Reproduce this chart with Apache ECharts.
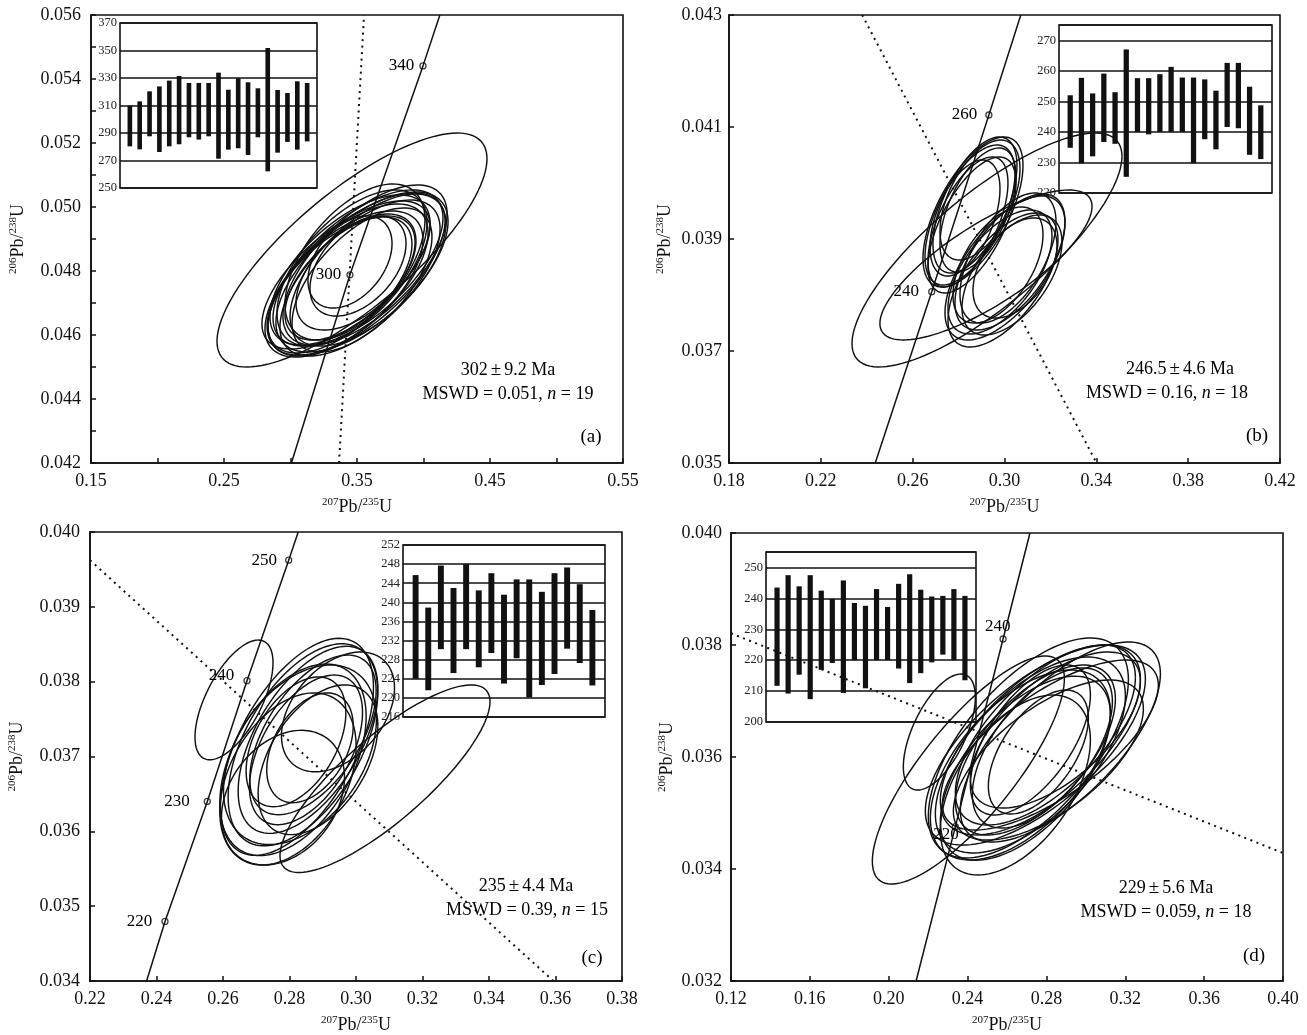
<!DOCTYPE html>
<html><head><meta charset="utf-8">
<script src="https://cdn.jsdelivr.net/npm/echarts@6/dist/echarts.min.js"></script>
<style>html,body{margin:0;padding:0;background:#fff}#c{width:1307px;height:1035px}</style>
</head><body><div id="c"></div>
<script>
// ================= DATA =================
// ---- panel (a) ----
const concA_x = [0.3007, 0.3447, 0.3996, 0.4123];
const concA_y = [0.0420, 0.04788, 0.05441, 0.0560];
const ageA_t = ['300', '340'];
const ageA_x = [0.3447, 0.3996];
const ageA_y = [0.04788, 0.05441];
const refA_x = [0.3365, 0.3553];
const refA_y = [0.0420, 0.0560];
const ellA_cx = [0.34624, 0.34474, 0.35075, 0.35376, 0.34323, 0.34850, 0.34098, 0.35602, 0.34624, 0.35226, 0.33722, 0.35827, 0.34850, 0.34474, 0.34925, 0.35075, 0.34474, 0.35376, 0.34173];
const ellA_cy = [0.048656, 0.048031, 0.048094, 0.047969, 0.047719, 0.047875, 0.047625, 0.048188, 0.048094, 0.047781, 0.047563, 0.048031, 0.048281, 0.047781, 0.047969, 0.048156, 0.048281, 0.047719, 0.047875];
const ellA_sx = [0.1015, 0.0602, 0.0639, 0.0647, 0.0602, 0.0677, 0.0586, 0.0617, 0.0564, 0.0602, 0.0541, 0.0586, 0.0526, 0.0489, 0.0451, 0.0361, 0.0316, 0.0526, 0.0632];
const ellA_sy = [0.003656, 0.002344, 0.002438, 0.0025, 0.002375, 0.002563, 0.00225, 0.0025, 0.002438, 0.002438, 0.002125, 0.002375, 0.002438, 0.001938, 0.001813, 0.001563, 0.001438, 0.00225, 0.002313];
const ellA_r  = [0.78, 0.62, 0.64, 0.63, 0.62, 0.66, 0.60, 0.64, 0.58, 0.63, 0.60, 0.61, 0.54, 0.58, 0.53, 0.45, 0.40, 0.60, 0.66];
const insA_low  = [280.3, 278.1, 287.6, 276.2, 280.3, 281.8, 286.9, 285.2, 287.6, 271.3, 277.9, 278.9, 274.0, 286.9, 262.1, 275.7, 283.5, 277.9, 283.9];
const insA_high = [309.9, 313.0, 320.3, 323.9, 328.1, 331.5, 326.4, 326.4, 326.4, 333.9, 321.5, 329.8, 326.9, 322.5, 351.8, 321.3, 319.1, 327.6, 326.4];

// ---- panel (b) ----
const concB_x = [0.2437, 0.2683, 0.2932, 0.3071];
const concB_y = [0.0350, 0.038059, 0.041214, 0.0430];
const ageB_t = ['240', '260'];
const ageB_x = [0.2683, 0.2932];
const ageB_y = [0.038059, 0.041214];
const refB_x = [0.2380, 0.3401];
const refB_y = [0.0430, 0.0350];
const ellB_cx = [0.29237, 0.29193, 0.28627, 0.28497, 0.28714, 0.28409, 0.28845, 0.28584, 0.28279, 0.28932, 0.30021, 0.30239, 0.29803, 0.30326, 0.29716, 0.30152, 0.29934, 0.30456];
const ellB_cy = [0.038804, 0.038536, 0.039482, 0.039429, 0.039607, 0.039304, 0.039518, 0.039250, 0.039375, 0.039696, 0.038482, 0.038589, 0.038411, 0.038357, 0.038536, 0.038661, 0.038268, 0.038482];
const ellB_sx = [0.0588, 0.0462, 0.02178, 0.0196, 0.01829, 0.01742, 0.01655, 0.01916, 0.01524, 0.01742, 0.02613, 0.02395, 0.02265, 0.02178, 0.0196, 0.02091, 0.02395, 0.01829];
const ellB_sy = [0.002089, 0.001339, 0.001339, 0.00125, 0.001214, 0.001161, 0.001107, 0.001214, 0.001036, 0.001071, 0.001286, 0.001214, 0.001107, 0.001071, 0.001036, 0.001161, 0.001196, 0.000893];
const ellB_r  = [0.80, 0.78, 0.62, 0.60, 0.58, 0.60, 0.55, 0.62, 0.50, 0.52, 0.62, 0.60, 0.58, 0.55, 0.52, 0.56, 0.60, 0.45];
const insB_low  = [234.8, 229.7, 232.0, 236.7, 236.1, 225.3, 240.0, 239.2, 240.0, 240.0, 240.0, 229.7, 237.6, 234.3, 241.6, 241.2, 232.5, 231.1];
const insB_high = [252.0, 257.7, 252.6, 259.1, 253.0, 267.0, 257.6, 257.6, 258.9, 261.3, 257.8, 257.8, 257.2, 253.5, 262.6, 262.6, 254.8, 248.7];

// ---- panel (c) ----
const concC_x = [0.23702, 0.24256, 0.25528, 0.26722, 0.27976, 0.28262];
const concC_y = [0.0340, 0.034796, 0.0364, 0.038013, 0.039623, 0.0400];
const ageC_t = ['220', '230', '240', '250'];
const ageC_x = [0.24256, 0.25528, 0.26722, 0.27976];
const ageC_y = [0.034796, 0.0364, 0.038013, 0.039623];
const refC_x = [0.2200, 0.35937];
const refC_y = [0.039623, 0.0340];
const ellC_cx = [0.26331, 0.30872, 0.28225, 0.28405, 0.28105, 0.28556, 0.28315, 0.27954, 0.28706, 0.28496, 0.28195, 0.28616, 0.29458, 0.27804, 0.28857];
const ellC_cy = [0.037756, 0.036703, 0.037129, 0.037156, 0.036956, 0.037223, 0.037023, 0.036700, 0.037289, 0.037089, 0.037196, 0.037116, 0.037596, 0.036450, 0.036956];
const ellC_sx = [0.01173, 0.03158, 0.0230, 0.0225, 0.0220, 0.0210, 0.0230, 0.0205, 0.0190, 0.0170, 0.0150, 0.0130, 0.0170, 0.0185, 0.0180];
const ellC_sy = [0.0008, 0.001253, 0.00145, 0.00135, 0.00128, 0.00125, 0.0012, 0.00115, 0.001067, 0.001, 0.000867, 0.000733, 0.0008, 0.0009, 0.001];
const ellC_r  = [0.62, 0.82, 0.55, 0.52, 0.45, 0.55, 0.40, 0.38, 0.55, 0.50, 0.45, 0.40, 0.40, 0.30, 0.45];
const insC_low  = [224.0, 221.6, 230.2, 225.2, 230.2, 226.4, 229.4, 223.0, 228.3, 220.1, 222.7, 225.0, 230.3, 227.3, 222.6];
const insC_high = [245.7, 238.9, 247.7, 243.0, 248.0, 242.5, 246.1, 241.6, 244.8, 244.8, 242.2, 246.1, 247.3, 243.8, 238.4];

// ---- panel (d) ----
const concD_x = [0.2139, 0.2338, 0.2580, 0.27165];
const concD_y = [0.0320, 0.034756, 0.038107, 0.0400];
const ageD_t = ['220', '240'];
const ageD_x = [0.2338, 0.2580];
const ageD_y = [0.034756, 0.038107];
const refD_x = [0.1200, 0.4000];
const refD_y = [0.038209, 0.034286];
const ellD_cx = [0.24040, 0.22568, 0.27439, 0.27693, 0.27186, 0.27947, 0.26932, 0.28200, 0.27439, 0.26678, 0.27794, 0.27186, 0.27591, 0.28454, 0.26425, 0.28099, 0.27084, 0.28707];
const ellD_cy = [0.035768, 0.036446, 0.036214, 0.036304, 0.036036, 0.036393, 0.035800, 0.036214, 0.036125, 0.035857, 0.036161, 0.036304, 0.036089, 0.036482, 0.035500, 0.035946, 0.036161, 0.036268];
const ellD_sx = [0.04871, 0.01826, 0.05581, 0.05074, 0.0482, 0.04566, 0.04313, 0.05479, 0.04059, 0.04566, 0.03552, 0.03044, 0.02537, 0.04313, 0.03805, 0.0482, 0.05074, 0.05074];
const ellD_sy = [0.002036, 0.001036, 0.001786, 0.001696, 0.00175, 0.001607, 0.001643, 0.001518, 0.001518, 0.001696, 0.001429, 0.001339, 0.001107, 0.001393, 0.001607, 0.001429, 0.001964, 0.001786];
const ellD_r  = [0.80, 0.60, 0.66, 0.64, 0.60, 0.64, 0.58, 0.70, 0.60, 0.56, 0.58, 0.60, 0.55, 0.62, 0.50, 0.64, 0.62, 0.68];
const insD_low  = [211.7, 209.2, 215.3, 207.4, 216.9, 219.1, 209.4, 220.0, 210.9, 220.0, 220.0, 217.3, 212.6, 215.8, 219.3, 221.8, 220.0, 213.5];
const insD_high = [243.5, 247.5, 243.9, 247.5, 242.5, 239.8, 245.8, 238.5, 237.6, 243.0, 237.2, 244.7, 247.8, 242.8, 240.6, 240.8, 243.0, 240.8];

// annotation texts
const ageVal   = ['302', '246.5', '235', '229'];
const errVal   = ['9.2', '4.6', '4.4', '5.6'];
const mswdText = ['0.051', '0.16', '0.39', '0.059'];
const nText    = ['19', '18', '15', '18'];
const tagText  = ['(a)', '(b)', '(c)', '(d)'];

// ================= LAYOUT / STYLE =================
const FF = 'Liberation Serif';
const INK = '#111';
const panels = [
  { grid:{left:91, top:15, width:532, height:448},
    x:{min:0.15, max:0.55, interval:0.1, dec:2, minor:true}, y:{min:0.042, max:0.056, interval:0.002, dec:3, minor:true},
    yGap:63, yMargin:10,
    ell:[ellA_cx, ellA_cy, ellA_sx, ellA_sy, ellA_r], conc:[concA_x, concA_y], ref:[refA_x, refA_y],
    ages:[ageA_t, ageA_x, ageA_y], ageOff:[[0,0],[0,0]],
    ins:{grid:{left:120, top:23, width:197, height:165}, min:250, max:370, interval:20, low:insA_low, high:insA_high, hideMax:false},
    txt:{ax:508, ay:370, mx:508, my:394, tx:591, ty:437} },
  { grid:{left:729, top:15, width:551, height:448},
    x:{min:0.18, max:0.42, interval:0.04, dec:2, minor:false}, y:{min:0.035, max:0.043, interval:0.002, dec:3, minor:false},
    yGap:54, yMargin:7,
    ell:[ellB_cx, ellB_cy, ellB_sx, ellB_sy, ellB_r], conc:[concB_x, concB_y], ref:[refB_x, refB_y],
    ages:[ageB_t, ageB_x, ageB_y], ageOff:[[-4,0],[-3,0]],
    ins:{grid:{left:1059, top:25, width:213, height:168}, min:220, max:275, interval:10, low:insB_low, high:insB_high, hideMax:true},
    txt:{ax:1180, ay:369, mx:1167, my:393, tx:1257, ty:436} },
  { grid:{left:90, top:532, width:532, height:450},
    x:{min:0.22, max:0.38, interval:0.02, dec:2, minor:false}, y:{min:0.034, max:0.040, interval:0.001, dec:3, minor:false},
    yGap:63, yMargin:10,
    ell:[ellC_cx, ellC_cy, ellC_sx, ellC_sy, ellC_r], conc:[concC_x, concC_y], ref:[refC_x, refC_y],
    ages:[ageC_t, ageC_x, ageC_y], ageOff:[[-4,0],[-9,0],[-4,-5],[-3,0]],
    ins:{grid:{left:403, top:545, width:202, height:172}, min:216, max:252, interval:4, low:insC_low, high:insC_high, hideMax:false},
    txt:{ax:526, ay:886, mx:527, my:910, tx:592, ty:958} },
  { grid:{left:731, top:533, width:552, height:448},
    x:{min:0.12, max:0.40, interval:0.04, dec:2, minor:false}, y:{min:0.032, max:0.040, interval:0.002, dec:3, minor:false},
    yGap:54, yMargin:9,
    ell:[ellD_cx, ellD_cy, ellD_sx, ellD_sy, ellD_r], conc:[concD_x, concD_y], ref:[refD_x, refD_y],
    ages:[ageD_t, ageD_x, ageD_y], ageOff:[[12,8],[16,-12]],
    ins:{grid:{left:766, top:552, width:210, height:170}, min:200, max:255, interval:10, low:insD_low, high:insD_high, hideMax:true},
    txt:{ax:1166, ay:888, mx:1166, my:912, tx:1254, ty:956} }
];

const nameRich = {
  s:{fontSize:11, fontFamily:FF, color:INK, verticalAlign:'top', lineHeight:20},
  n:{fontSize:18, fontFamily:FF, color:INK, lineHeight:20}
};

function ellipseRender(params, api){
  const cx = api.value(0), cy = api.value(1), sx = api.value(2), sy = api.value(3), r = api.value(4);
  const q = Math.sqrt(1 - r*r);
  const pts = [];
  for (let k = 0; k <= 120; k++){
    const t = k / 120 * 2 * Math.PI;
    pts.push(api.coord([cx + sx*Math.cos(t), cy + sy*(r*Math.cos(t) + q*Math.sin(t))]));
  }
  return {type:'polyline', shape:{points:pts}, style:{stroke:INK, lineWidth:1.45, fill:null}};
}
function barRender(params, api){
  const i = api.value(0);
  const lo = api.coord([i, api.value(1)]);
  const hi = api.coord([i, api.value(2)]);
  const w = api.size([1, 0])[0] * 0.47;
  return {type:'rect', shape:{x:lo[0]-w/2, y:hi[1], width:w, height:lo[1]-hi[1]}, style:{fill:INK}};
}

const grids = new Array(8), xAxes = new Array(8), yAxes = new Array(8), series = [], graphics = [];
panels.forEach((p, i) => {
  grids[i] = Object.assign({show:true, borderColor:INK, borderWidth:1.6, backgroundColor:'transparent', containLabel:false}, p.grid);
  xAxes[i] = {gridIndex:i, type:'value', min:p.x.min, max:p.x.max, interval:p.x.interval,
    axisLine:{show:true, onZero:false, lineStyle:{color:INK, width:1.6}},
    axisTick:{show:true, inside:true, length:5, lineStyle:{color:INK, width:1.5}},
    minorTick:{show:p.x.minor, splitNumber:2, length:5, lineStyle:{color:INK, width:1.5}},
    splitLine:{show:false}, minorSplitLine:{show:false},
    axisLabel:{formatter:(v)=>v.toFixed(p.x.dec), color:INK, fontFamily:FF, fontSize:18, margin:9},
    name:'{s|207}{n|Pb/}{s|235}{n|U}', nameLocation:'middle', nameGap:34,
    nameTextStyle:{rich:nameRich, fontFamily:FF, fontSize:18, color:INK}};
  yAxes[i] = {gridIndex:i, type:'value', min:p.y.min, max:p.y.max, interval:p.y.interval,
    axisLine:{show:true, onZero:false, lineStyle:{color:INK, width:1.6}},
    axisTick:{show:true, inside:true, length:5, lineStyle:{color:INK, width:1.5}},
    minorTick:{show:p.y.minor, splitNumber:2, length:5, lineStyle:{color:INK, width:1.5}},
    splitLine:{show:false}, minorSplitLine:{show:false},
    axisLabel:{formatter:(v)=>v.toFixed(p.y.dec), color:INK, fontFamily:FF, fontSize:18, margin:p.yMargin},
    name:'{s|206}{n|Pb/}{s|238}{n|U}', nameLocation:'middle', nameGap:p.yGap,
    nameTextStyle:{rich:nameRich, fontFamily:FF, fontSize:18, color:INK}};

  const e = p.ell;
  series.push({type:'custom', xAxisIndex:i, yAxisIndex:i, silent:true, z:3, animation:false,
    data:e[0].map((c,k)=>[c, e[1][k], e[2][k], e[3][k], e[4][k]]),
    encode:{x:0, y:1}, renderItem:ellipseRender});
  series.push({type:'line', xAxisIndex:i, yAxisIndex:i, silent:true, z:2, animation:false, symbol:'none',
    data:p.ref[0].map((x,k)=>[x, p.ref[1][k]]),
    lineStyle:{color:INK, width:2, type:[2,4.5]}});
  series.push({type:'line', xAxisIndex:i, yAxisIndex:i, silent:true, z:4, animation:false, symbol:'none',
    data:p.conc[0].map((x,k)=>[x, p.conc[1][k]]),
    lineStyle:{color:INK, width:1.5}});
  series.push({type:'scatter', xAxisIndex:i, yAxisIndex:i, silent:true, z:5, animation:false,
    symbol:'circle', symbolSize:6,
    itemStyle:{color:'rgba(255,255,255,0)', borderColor:INK, borderWidth:1.3},
    label:{show:true, position:'left', distance:5, formatter:'{b}', color:'#000', fontFamily:FF, fontSize:17, textBorderWidth:0, opacity:1},
    data:p.ages[0].map((t,k)=>({name:t, value:[p.ages[1][k], p.ages[2][k]], label:{offset:p.ageOff[k]}}))});

  const gi = 4 + i;
  const ins = p.ins;
  grids[gi] = Object.assign({show:true, borderColor:INK, borderWidth:1.6, backgroundColor:'transparent'}, ins.grid);
  xAxes[gi] = {gridIndex:gi, type:'value', min:0, max:ins.low.length+1, show:false};
  yAxes[gi] = {gridIndex:gi, type:'value', min:ins.min, max:ins.max, interval:ins.interval,
    axisLine:{show:false}, axisTick:{show:false},
    splitLine:{show:true, lineStyle:{color:INK, width:1.5}},
    axisLabel:{color:'#222', fontFamily:FF, fontSize:12.5, margin:3, showMaxLabel:!ins.hideMax}};
  series.push({type:'custom', xAxisIndex:gi, yAxisIndex:gi, silent:true, z:6, animation:false,
    data:ins.low.map((lo,k)=>[k+1, lo, ins.high[k]]), encode:{x:0, y:[1,2]}, renderItem:barRender});

  const t = p.txt;
  const baseStyle = {fontFamily:FF, fontSize:18, fill:'#000', textAlign:'center', textVerticalAlign:'middle', align:'center', verticalAlign:'middle'};
  graphics.push({type:'text', x:t.ax, y:t.ay, z:10, style:Object.assign({}, baseStyle, {
    text: ageVal[i] + '{pm|±}' + errVal[i] + ' Ma',
    rich:{pm:{fontFamily:FF, fontSize:19, fill:'#000', padding:[0,3,0,3]}}})});
  graphics.push({type:'text', x:t.mx, y:t.my, z:10, style:Object.assign({}, baseStyle, {
    text:'MSWD = ' + mswdText[i] + ', {i|n} = ' + nText[i],
    rich:{i:{fontFamily:FF, fontSize:18, fontStyle:'italic', fill:'#000'}}})});
  graphics.push({type:'text', x:t.tx, y:t.ty, z:10, style:Object.assign({}, baseStyle, {text:tagText[i], fontSize:19})});
});

const chart = echarts.init(document.getElementById('c'), null, {renderer:'canvas'});
chart.setOption({
  animation:false,
  backgroundColor:'#fff',
  textStyle:{fontFamily:FF},
  grid:grids, xAxis:xAxes, yAxis:yAxes, series:series, graphic:graphics
});
</script>
</body></html>
